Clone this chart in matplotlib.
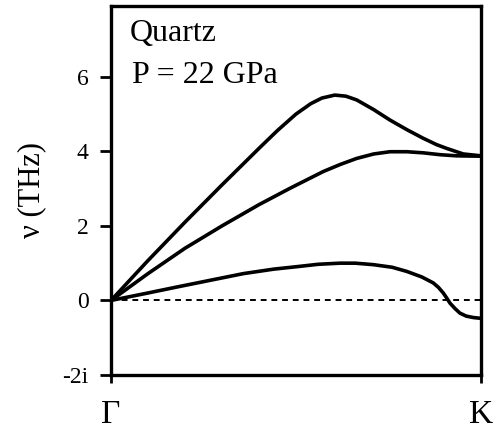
import matplotlib
matplotlib.use('Agg')
import matplotlib.pyplot as plt

plt.rcParams['font.family'] = ['Liberation Serif', 'DejaVu Serif']

# Donnees (x : fraction du chemin Gamma -> K, y : THz)
x_haut = [0.0, 0.1, 0.2, 0.3, 0.4, 0.45, 0.5, 0.54, 0.57, 0.605, 0.635,
          0.664, 0.71, 0.754, 0.80, 0.844, 0.88, 0.907, 0.952, 1.0]
y_haut = [0.0, 1.07, 2.1, 3.1, 4.08, 4.56, 5.0, 5.28, 5.43, 5.51, 5.48,
          5.38, 5.12, 4.84, 4.58, 4.35, 4.18, 4.08, 3.93, 3.88]

x_milieu = [0.0, 0.1, 0.2, 0.3, 0.4, 0.484, 0.574, 0.62, 0.664, 0.71,
            0.754, 0.80, 0.844, 0.89, 0.934, 1.0]
y_milieu = [0.0, 0.72, 1.40, 2.0, 2.57, 3.01, 3.46, 3.65, 3.81, 3.93,
            3.99, 3.99, 3.96, 3.91, 3.88, 3.87]

x_bas = [0.0, 0.1, 0.178, 0.268, 0.358, 0.44, 0.506, 0.56, 0.619, 0.66,
         0.709, 0.76, 0.799, 0.84, 0.871, 0.885, 0.898, 0.907, 0.916,
         0.93, 0.943, 0.96, 0.98, 1.0]
y_bas = [0.0, 0.2, 0.36, 0.54, 0.72, 0.84, 0.91, 0.97, 1.0, 1.0,
         0.96, 0.89, 0.78, 0.63, 0.47, 0.35, 0.2, 0.07, -0.07,
         -0.22, -0.34, -0.42, -0.46, -0.48]

yticks = [-2, 0, 2, 4, 6]
ytick_labels = ['-2i', '0', '2', '4', '6']
xticks = [0, 1]
xtick_labels = ['\u0393', 'K']

fig = plt.figure(figsize=(4.97, 4.41), dpi=100)
ax = fig.add_axes([0.2233, 0.1497, 0.7445, 0.8367])

for xs, ys in [(x_haut, y_haut), (x_milieu, y_milieu), (x_bas, y_bas)]:
    ax.plot(xs, ys, color='black', linewidth=2.6, solid_joinstyle='round',
            solid_capstyle='round')

ax.axhline(0, color='black', linewidth=1.4, linestyle=(0, (3, 2.5)))

ax.set_xlim(0, 1)
ax.set_ylim(-2, 7.9)
ax.set_yticks(yticks)
ax.set_yticklabels(ytick_labels)
ax.set_xticks(xticks)
ax.set_xticklabels(xtick_labels)
ax.tick_params(axis='y', direction='out', length=8, width=2, labelsize=17, pad=8)
ax.tick_params(axis='x', direction='out', length=6, width=2, labelsize=24, pad=12)
for s in ax.spines.values():
    s.set_linewidth(2.4)

ax.set_ylabel('\u03bd (THz)', fontsize=22, labelpad=12)
ax.text(0.05, 0.905, 'Quartz', transform=ax.transAxes, fontsize=23)
ax.text(0.058, 0.79, 'P = 22 GPa', transform=ax.transAxes, fontsize=23)

fig.savefig('out.png', dpi=100)
